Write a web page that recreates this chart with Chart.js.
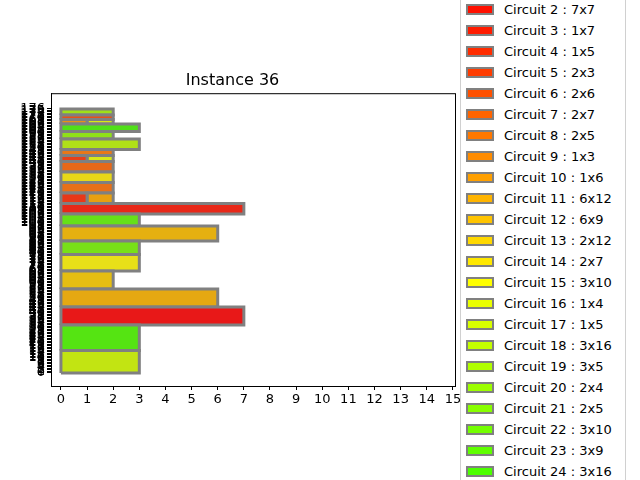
<!DOCTYPE html>
<html>
<head>
<meta charset="utf-8">
<script src="https://cdn.jsdelivr.net/npm/chart.js@4"></script>
<style>
  body { margin: 0; background: #fff; font-family: "DejaVu Sans", sans-serif; }
  #wrap { position: relative; width: 640px; height: 480px; overflow: hidden; }
  #legend { position: absolute; left: 460px; top: -12px; width: 164px; height: 510px;
            border: 1px solid #d0d0d0; border-radius: 3px; background: #fff; }
  .item { position: absolute; left: 5px; font-size: 13px; color: #000; white-space: nowrap; }
  .patch { display: inline-block; width: 24px; height: 7px; border: 2.5px solid #808080;
           vertical-align: -1px; margin-right: 10px; }
</style>
</head>
<body>
<div id="wrap">
  <canvas id="myChart" width="640" height="480"></canvas>
  <div id="legend"></div>
</div>
<script>
// placed rectangles: x, y, width, height, colour
const rectX = [0, 0, 0, 0, 0, 0, 0, 0, 0, 0, 0, 1, 0, 0, 0, 0, 1, 0, 0, 0, 0, 0, 1, 0, 0];
const rectY = [0, 15, 32, 44, 56, 68, 79, 88, 98, 106, 113, 113, 120, 127, 134, 141, 141, 145, 149, 156, 161, 166, 166, 169, 172];
const rectW = [3, 3, 7, 6, 2, 3, 3, 6, 3, 7, 1, 1, 2, 2, 2, 1, 1, 2, 3, 2, 3, 1, 1, 2, 2];
const rectH = [15, 17, 12, 12, 12, 11, 9, 10, 8, 7, 7, 7, 7, 7, 7, 4, 4, 4, 7, 5, 5, 3, 3, 3, 4];
const rectColors = ['#c2e412', '#55e412', '#e81818', '#e5a812', '#e5be12', '#e8e018', '#78e018',
  '#e5b010', '#66e018', '#e82818', '#e83818', '#e8a010', '#e87018', '#e8d818', '#e86818',
  '#e84018', '#d8e818', '#e87818', '#b0e018', '#90e018', '#50e018', '#e89018', '#d8e818',
  '#e85018', '#a0e018'];

// legend entries
const circuitLabels = ['Circuit 2 : 7x7', 'Circuit 3 : 1x7', 'Circuit 4 : 1x5', 'Circuit 5 : 2x3',
  'Circuit 6 : 2x6', 'Circuit 7 : 2x7', 'Circuit 8 : 2x5', 'Circuit 9 : 1x3', 'Circuit 10 : 1x6',
  'Circuit 11 : 6x12', 'Circuit 12 : 6x9', 'Circuit 13 : 2x12', 'Circuit 14 : 2x7',
  'Circuit 15 : 3x10', 'Circuit 16 : 1x4', 'Circuit 17 : 1x5', 'Circuit 18 : 3x16',
  'Circuit 19 : 3x5', 'Circuit 20 : 2x4', 'Circuit 21 : 2x5', 'Circuit 22 : 3x10',
  'Circuit 23 : 3x9', 'Circuit 24 : 3x16'];
const circuitColors = ['#ff1000', '#ff1c00', '#ff2c00', '#ff3c00', '#ff5000', '#ff6400', '#ff7800',
  '#ff8c00', '#ffa000', '#ffb400', '#ffc400', '#ffd800', '#ffe800', '#ffff00', '#eaff00',
  '#d8ff00', '#c4ff00', '#b0ff00', '#9cff00', '#88ff00', '#74ff00', '#60ff00', '#4cff00'];

const xTicks = [0, 1, 2, 3, 4, 5, 6, 7, 8, 9, 10, 11, 12, 13, 14, 15];
const yTicks = Array.from({ length: 177 }, (_, i) => i);

const legend = document.getElementById('legend');
circuitLabels.forEach((lab, i) => {
  const d = document.createElement('div');
  d.className = 'item';
  d.style.top = (12 + 1 + i * 21) + 'px';
  d.innerHTML = '<span class="patch" style="background:' + circuitColors[i] + '"></span>' + lab;
  legend.appendChild(d);
});

const datasets = rectX.map((x, i) => {
  const y = rectY[i], w = rectW[i], h = rectH[i];
  return {
    data: [{ x: x, y: y }, { x: x + w, y: y }, { x: x + w, y: y + h }, { x: x, y: y + h }, { x: x, y: y }],
    backgroundColor: rectColors[i],
    borderColor: '#808080',
    borderWidth: 3,
    fill: 'shape',
    pointRadius: 0,
    tension: 0
  };
});

// full box round the axes, like matplotlib
const frame = {
  id: 'frame',
  afterDraw(chart) {
    const { ctx, chartArea: a } = chart;
    ctx.save();
    ctx.strokeStyle = '#000';
    ctx.lineWidth = 1;
    ctx.strokeRect(a.left + 0.5, a.top + 0.5, a.right - a.left, a.bottom - a.top);
    ctx.restore();
  }
};

const axisGrid = { drawOnChartArea: false, color: '#000', tickLength: 4 };
new Chart(document.getElementById('myChart'), {
  type: 'scatter',
  data: { datasets: datasets },
  plugins: [frame],
  options: {
    responsive: false,
    animation: false,
    showLine: true,
    layout: { padding: { left: 10, right: 185, top: 0, bottom: 0 } },
    plugins: {
      legend: { display: false },
      tooltip: { enabled: false },
      title: { display: true, text: 'Instance 36', color: '#000',
        font: { family: 'DejaVu Sans', size: 16, weight: 'normal' }, padding: { top: 71, bottom: 3 } }
    },
    scales: {
      x: {
        type: 'linear', min: -0.38, max: 15.08,
        border: { color: '#000', width: 1 },
        grid: axisGrid,
        afterBuildTicks: s => { s.ticks = xTicks.map(v => ({ value: v })); },
        afterFit: s => { s.height = 94; },
        ticks: { color: '#000', font: { family: 'DejaVu Sans', size: 13 }, maxRotation: 0, autoSkip: false, padding: 2 }
      },
      y: {
        type: 'linear', min: -8.7, max: 186.5,
        border: { color: '#000', width: 1 },
        grid: axisGrid,
        afterBuildTicks: s => { s.ticks = yTicks.map(v => ({ value: v })); },
        afterFit: s => { s.width = 41; },
        ticks: { color: '#000', font: { family: 'DejaVu Sans', size: 13 }, autoSkip: false, padding: 2 }
      }
    }
  }
});
</script>
</body>
</html>
